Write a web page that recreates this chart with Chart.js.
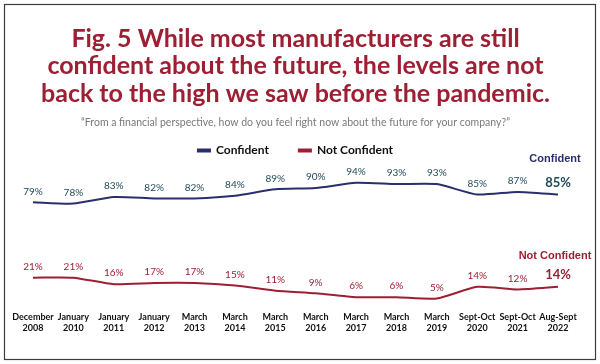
<!DOCTYPE html>
<html>
<head>
<meta charset="utf-8">
<script src="https://cdn.jsdelivr.net/npm/chart.js@4.4.1/dist/chart.umd.min.js"></script>
<style>
  html, body { margin: 0; padding: 0; background: #fff; }
  #wrap { width: 600px; height: 364px; }
</style>
</head>
<body>
<div id="wrap"><canvas id="myChart" width="600" height="364"></canvas></div>
<script>
// survey waves (two-line tick labels)
const periods = [
  ["December", "2008"], ["January", "2010"], ["January", "2011"], ["January", "2012"],
  ["March", "2013"], ["March", "2014"], ["March", "2015"], ["March", "2016"],
  ["March", "2017"], ["March", "2018"], ["March", "2019"], ["Sept-Oct", "2020"],
  ["Sept-Oct", "2021"], ["Aug-Sept", "2022"]
];
const confident = [79, 78, 83, 82, 82, 84, 89, 90, 94, 93, 93, 85, 87, 85];
const notConfident = [21, 21, 16, 17, 17, 15, 11, 9, 6, 6, 5, 14, 12, 14];
const seriesNames = ["Confident", "Not Confident"];

const titleLines = [
  "Fig. 5 While most manufacturers are still",
  "confident about the future, the levels are not",
  "back to the high we saw before the pandemic."
];
const subtitleText = "\u201cFrom a financial perspective, how do you feel right now about the future for your company?\u201d";

const NAVY = "#2b2e6c";
const RED = "#9c1f33";
const NAVY_LBL = "#1f4a5a";

// frame + value labels
const plugin = {
  id: "extras",
  beforeDraw: (chart) => {
    const ctx = chart.ctx;
    ctx.save();
    ctx.fillStyle = "white";
    ctx.fillRect(0, 0, chart.width, chart.height);
    ctx.strokeStyle = "#3c3c3c";
    ctx.lineWidth = 1.2;
    ctx.strokeRect(4.5, 4.5, 591, 355);
    ctx.restore();
  },
  afterDatasetsDraw: (chart) => {
    const ctx = chart.ctx;
    ctx.save();
    ctx.textAlign = "center";
    ctx.textBaseline = "middle";
    chart.data.datasets.forEach((ds, i) => {
      const meta = chart.getDatasetMeta(i);
      const last = meta.data.length - 1;
      meta.data.forEach((pt, j) => {
        ctx.fillStyle = i === 0 ? NAVY_LBL : RED;
        if (j === last) {
          ctx.font = "bold 13px Lato";
          ctx.fillText(ds.data[j] + "%", pt.x, pt.y - 12);
        } else {
          ctx.font = "10px Lato";
          ctx.fillText(ds.data[j] + "%", pt.x, pt.y - 11);
        }
      });
      // series name at the end of the line
      const pt = meta.data[last];
      ctx.font = "bold 11px 'Liberation Sans'";
      ctx.fillStyle = i === 0 ? NAVY : RED;
      ctx.fillText(ds.label, pt.x - 3, pt.y - (i === 0 ? 36 : 31));
    });
    ctx.restore();
  }
};

const data = {
  labels: periods,
  datasets: [
    {
      label: seriesNames[0],
      data: confident,
      borderColor: NAVY,
      backgroundColor: NAVY,
      borderWidth: 2,
      pointRadius: 0,
      tension: 0.2
    },
    {
      label: seriesNames[1],
      data: notConfident,
      borderColor: RED,
      backgroundColor: RED,
      borderWidth: 2,
      pointRadius: 0,
      tension: 0.2
    }
  ]
};

const config = {
  type: "line",
  data: data,
  plugins: [plugin],
  options: {
    responsive: false,
    animation: false,
    layout: { padding: { left: 33, right: 42, top: 0, bottom: 18.9 } },
    plugins: {
      title: {
        display: true,
        text: titleLines,
        color: RED,
        font: { family: "Lato", size: 25, weight: "bold", lineHeight: 1.1 },
        padding: { top: 25, bottom: 9 }
      },
      subtitle: {
        display: true,
        text: subtitleText,
        color: "#7a7a7a",
        font: { family: "Lato", size: 10.5, lineHeight: 1.2 },
        padding: { top: 0, bottom: -14.7 }
      },
      legend: {
        display: true,
        labels: {
          boxWidth: 12,
          boxHeight: 2,
          color: "#111",
          padding: 30,
          font: { family: "Lato", size: 12, weight: "bold" }
        }
      },
      tooltip: { enabled: false }
    },
    scales: {
      x: {
        offset: false,
        grid: { display: false, drawTicks: false },
        border: { display: false },
        ticks: {
          autoSkip: false,
          maxRotation: 0,
          padding: 8.8,
          color: "#111",
          font: { family: "Lato", size: 9, weight: "bold", lineHeight: 1.25 }
        }
      },
      y: {
        display: false,
        min: 0,
        max: 105
      }
    }
  }
};
const myChart = new Chart(document.getElementById("myChart"), config);
</script>
</body>
</html>
